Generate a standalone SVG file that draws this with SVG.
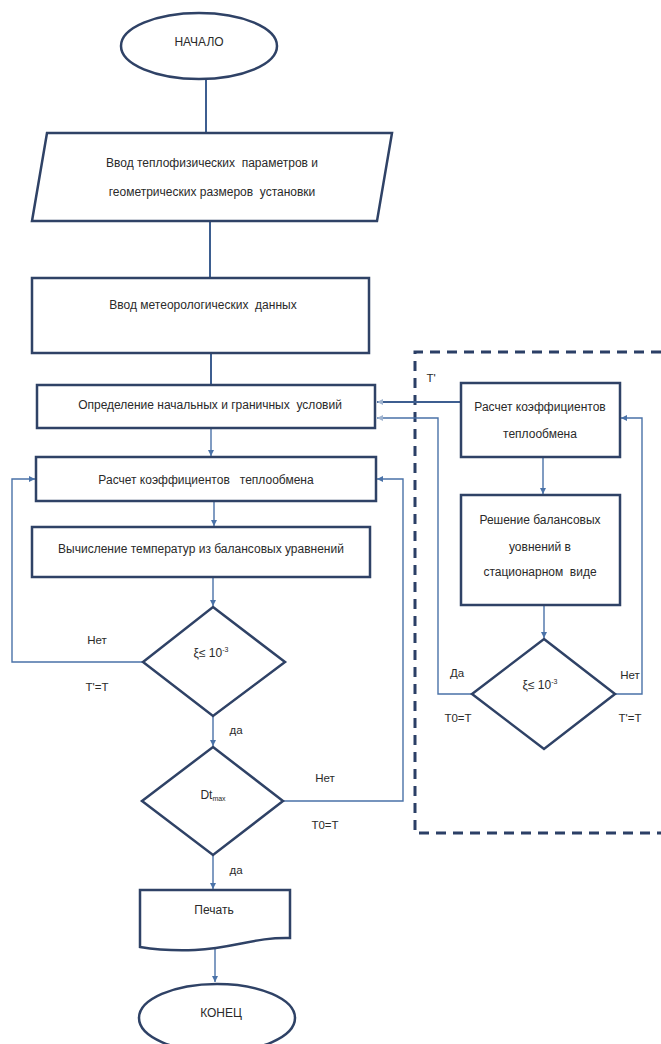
<svg xmlns="http://www.w3.org/2000/svg" width="661" height="1044" viewBox="0 0 661 1044">
<defs>
<style>
.shape{fill:#fff;stroke:#2f4266;stroke-width:2.5}
.t{font-family:"Liberation Sans","DejaVu Sans",sans-serif;font-size:12px;fill:#2a2a2a;text-anchor:middle;white-space:pre}
.lbl{font-family:"Liberation Sans","DejaVu Sans",sans-serif;font-size:11.5px;fill:#2a2a2a;text-anchor:middle}
.c{fill:none;stroke:#4a72a8;stroke-width:1.4}
.ct{fill:none;stroke:#3d5e90;stroke-width:2}
.dash{fill:none;stroke:#2b3f66;stroke-width:3;stroke-dasharray:10 7}
</style>
<marker id="ah" viewBox="0 0 10 10" refX="10" refY="5" markerWidth="6" markerHeight="6" orient="auto" markerUnits="userSpaceOnUse">
<path d="M0,0 L10,5 L0,10 z" fill="#4a72a8"/>
</marker>
<marker id="ahf" viewBox="0 0 10 10" refX="10" refY="5" markerWidth="6" markerHeight="6" orient="auto" markerUnits="userSpaceOnUse">
<path d="M0,0 L10,5 L0,10 z" fill="#9fb3cf"/>
</marker>
</defs>
<rect width="661" height="1044" fill="#fff"/>

<g id="subsystem">
<path class="dash" d="M661,352 H415 V833 H661"/>
</g>

<g id="connectors">
<line class="ct" x1="206" y1="79" x2="206" y2="133"/>
<line class="ct" x1="210" y1="221" x2="210" y2="278"/>
<line class="ct" x1="211" y1="353" x2="211" y2="385"/>
<line class="c" x1="211" y1="428" x2="211" y2="456" marker-end="url(#ah)"/>
<line class="c" x1="214" y1="501" x2="214" y2="526" marker-end="url(#ah)"/>
<line class="c" x1="213" y1="577" x2="213" y2="606" marker-end="url(#ah)"/>
<line class="c" x1="213" y1="716" x2="213" y2="746" marker-end="url(#ah)"/>
<line class="c" x1="213" y1="855" x2="213" y2="889" marker-end="url(#ah)"/>
<line class="c" x1="215" y1="949" x2="215" y2="982" marker-end="url(#ah)"/>
<path class="c" d="M143,662 H12 V479 H35" marker-end="url(#ah)"/>
<path class="c" d="M283,801 H403 V479 H377" marker-end="url(#ah)"/>
<path class="ct" d="M461,402 H377" marker-end="url(#ahf)"/>
<path class="c" d="M472,694 H438 V418 H377" marker-end="url(#ahf)"/>
<path class="c" d="M615,694 H642 V418 H621" marker-end="url(#ah)"/>
<line class="c" x1="543" y1="457" x2="543" y2="494" marker-end="url(#ah)"/>
<line class="c" x1="544" y1="605" x2="544" y2="638" marker-end="url(#ah)"/>
</g>

<g id="start">
<ellipse class="shape" cx="199" cy="46" rx="78" ry="33"/>
<text class="t" x="199" y="46">НАЧАЛО</text>
</g>

<g id="input1">
<polygon class="shape" points="47,133 392,133 377,221 32,221"/>
<text class="t" x="212" y="167">Ввод теплофизических  параметров и</text>
<text class="t" x="212" y="196">геометрических размеров  установки</text>
</g>

<g id="input2">
<rect class="shape" x="32" y="278" width="337" height="75"/>
<text class="t" x="203" y="309">Ввод метеорологических  данных</text>
</g>

<g id="init">
<rect class="shape" x="37" y="385" width="338" height="43"/>
<text class="t" x="210" y="409">Определение начальных и граничных  условий</text>
</g>

<g id="coef">
<rect class="shape" x="36" y="457" width="340" height="44"/>
<text class="t" x="206" y="484">Расчет коэффициентов   теплообмена</text>
</g>

<g id="temp">
<rect class="shape" x="32" y="527" width="338" height="50"/>
<text class="t" x="201" y="553">Вычисление температур из балансовых уравнений</text>
</g>

<g id="cond1">
<polygon class="shape" points="213,607 285,662 213,716 143,662"/>
<text class="t" x="211" y="657">ξ≤ 10<tspan font-size="7" dy="-5">-3</tspan></text>
</g>

<g id="cond2">
<polygon class="shape" points="213,747 283,801 213,855 142,801"/>
<text class="t" x="213" y="799">Dt<tspan font-size="7" dy="2">max</tspan></text>
</g>

<g id="print">
<path class="shape" d="M140,890 H290 V938 C255,937 235,948 195,950 C170,951 152,949 140,947 Z"/>
<text class="t" x="214" y="914">Печать</text>
</g>

<g id="end">
<ellipse class="shape" cx="217" cy="1018" rx="78" ry="34"/>
<text class="t" x="221" y="1017">КОНЕЦ</text>
</g>

<g id="coefS">
<rect class="shape" x="461" y="383" width="159" height="74"/>
<text class="t" x="540" y="411">Расчет коэффициентов</text>
<text class="t" x="540" y="438">теплообмена</text>
</g>

<g id="solveS">
<rect class="shape" x="461" y="495" width="159" height="110"/>
<text class="t" x="540" y="524">Решение балансовых</text>
<text class="t" x="540" y="551">уовнений в</text>
<text class="t" x="540" y="576">стационарном  виде</text>
</g>

<g id="cond3">
<polygon class="shape" points="544,639 615,694 544,749 472,694"/>
<text class="t" x="540" y="689">ξ≤ 10<tspan font-size="7" dy="-5">-3</tspan></text>
</g>

<g id="labels">
<text class="lbl" x="97" y="644">Нет</text>
<text class="lbl" x="97" y="691">T'=T</text>
<text class="lbl" x="236" y="734">да</text>
<text class="lbl" x="325" y="782">Нет</text>
<text class="lbl" x="325" y="829">T0=T</text>
<text class="lbl" x="236" y="874">да</text>
<text class="lbl" x="431" y="382">T'</text>
<text class="lbl" x="457" y="677">Да</text>
<text class="lbl" x="458" y="722">T0=T</text>
<text class="lbl" x="630" y="679">Нет</text>
<text class="lbl" x="630" y="722">T'=T</text>
</g>
</svg>
